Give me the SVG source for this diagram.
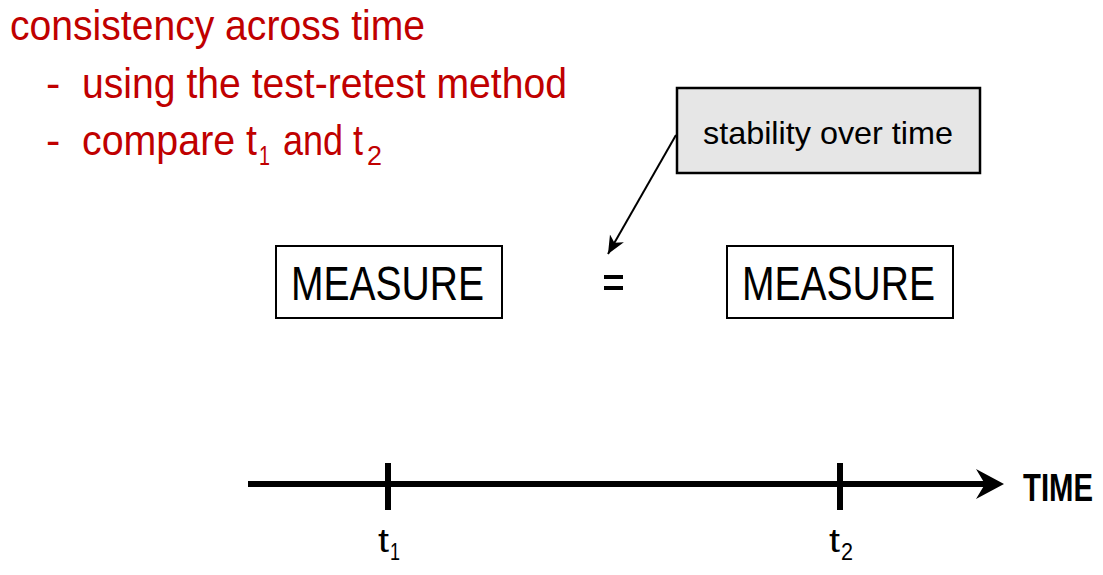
<svg xmlns="http://www.w3.org/2000/svg" width="1103" height="575" viewBox="0 0 1103 575">
  <style>
    .red { fill: #C00000; font-family: "Liberation Sans", Arial, sans-serif; }
    .blk { fill: #000; font-family: "Liberation Sans", Arial, sans-serif; }
    .box { fill: #fff; stroke: #000; stroke-width: 2; }
    .callout { fill: #e6e6e6; stroke: #000; stroke-width: 2.5; }
    .axis { stroke: #000; stroke-width: 6; fill: none; }
  </style>
  <defs>
    <marker id="head" markerUnits="userSpaceOnUse" markerWidth="20" markerHeight="20" viewBox="0 0 20 20" refX="18" refY="10" orient="auto">
      <path d="M0,2 L18,10 L0,18 L5,10 z" fill="#000"/>
    </marker>
  </defs>

  <g id="heading">
    <text class="red" x="10" y="40" font-size="43" textLength="415" lengthAdjust="spacingAndGlyphs">consistency across time</text>
    <text class="red" x="46" y="98" font-size="43">-</text>
    <text class="red" x="82" y="98" font-size="43" textLength="485" lengthAdjust="spacingAndGlyphs">using the test-retest method</text>
    <text class="red" x="46" y="155" font-size="43">-</text>
    <text class="red" x="82" y="155" font-size="43" textLength="175" lengthAdjust="spacingAndGlyphs">compare t</text>
    <text class="red" x="259" y="165" font-size="28" textLength="11" lengthAdjust="spacingAndGlyphs">1</text>
    <text class="red" x="283" y="155" font-size="43" textLength="80" lengthAdjust="spacingAndGlyphs">and t</text>
    <text class="red" x="367" y="165" font-size="28" textLength="15" lengthAdjust="spacingAndGlyphs">2</text>
  </g>

  <g id="callout">
    <rect class="callout" x="677" y="88" width="303" height="85"/>
    <text class="blk" x="703" y="144" font-size="32" textLength="250" lengthAdjust="spacingAndGlyphs">stability over time</text>
  </g>

  <g id="measure1">
    <rect class="box" x="276" y="246" width="226" height="72"/>
    <text class="blk" x="291" y="300" font-size="48" textLength="193" lengthAdjust="spacingAndGlyphs">MEASURE</text>
  </g>

  <g id="equals">
    <rect x="604" y="275" width="19" height="4" fill="#000"/>
    <rect x="604" y="286" width="19" height="4" fill="#000"/>
  </g>

  <g id="measure2">
    <rect class="box" x="727" y="246" width="226" height="72"/>
    <text class="blk" x="742" y="300" font-size="48" textLength="193" lengthAdjust="spacingAndGlyphs">MEASURE</text>
  </g>

  <g id="timeline">
    <line class="axis" x1="248" y1="484" x2="985" y2="484"/>
    <path d="M1004,484 L976,469 L985,484 L976,499 z" fill="#000"/>
    <line class="axis" x1="388" y1="463" x2="388" y2="510"/>
    <line class="axis" x1="840" y1="463" x2="840" y2="510"/>
    <text class="blk" x="1023" y="501" font-size="39" font-weight="bold" textLength="70" lengthAdjust="spacingAndGlyphs">TIME</text>
    <text class="blk" x="378" y="552" font-size="34" textLength="11" lengthAdjust="spacingAndGlyphs">t</text>
    <text class="blk" x="390" y="560" font-size="24" textLength="10" lengthAdjust="spacingAndGlyphs">1</text>
    <text class="blk" x="829" y="552" font-size="34" textLength="11" lengthAdjust="spacingAndGlyphs">t</text>
    <text class="blk" x="841" y="560" font-size="24" textLength="12" lengthAdjust="spacingAndGlyphs">2</text>
  </g>

  <g id="connectors">
    <line x1="676" y1="135" x2="608" y2="254" stroke="#000" stroke-width="2" marker-end="url(#head)"/>
  </g>
</svg>
